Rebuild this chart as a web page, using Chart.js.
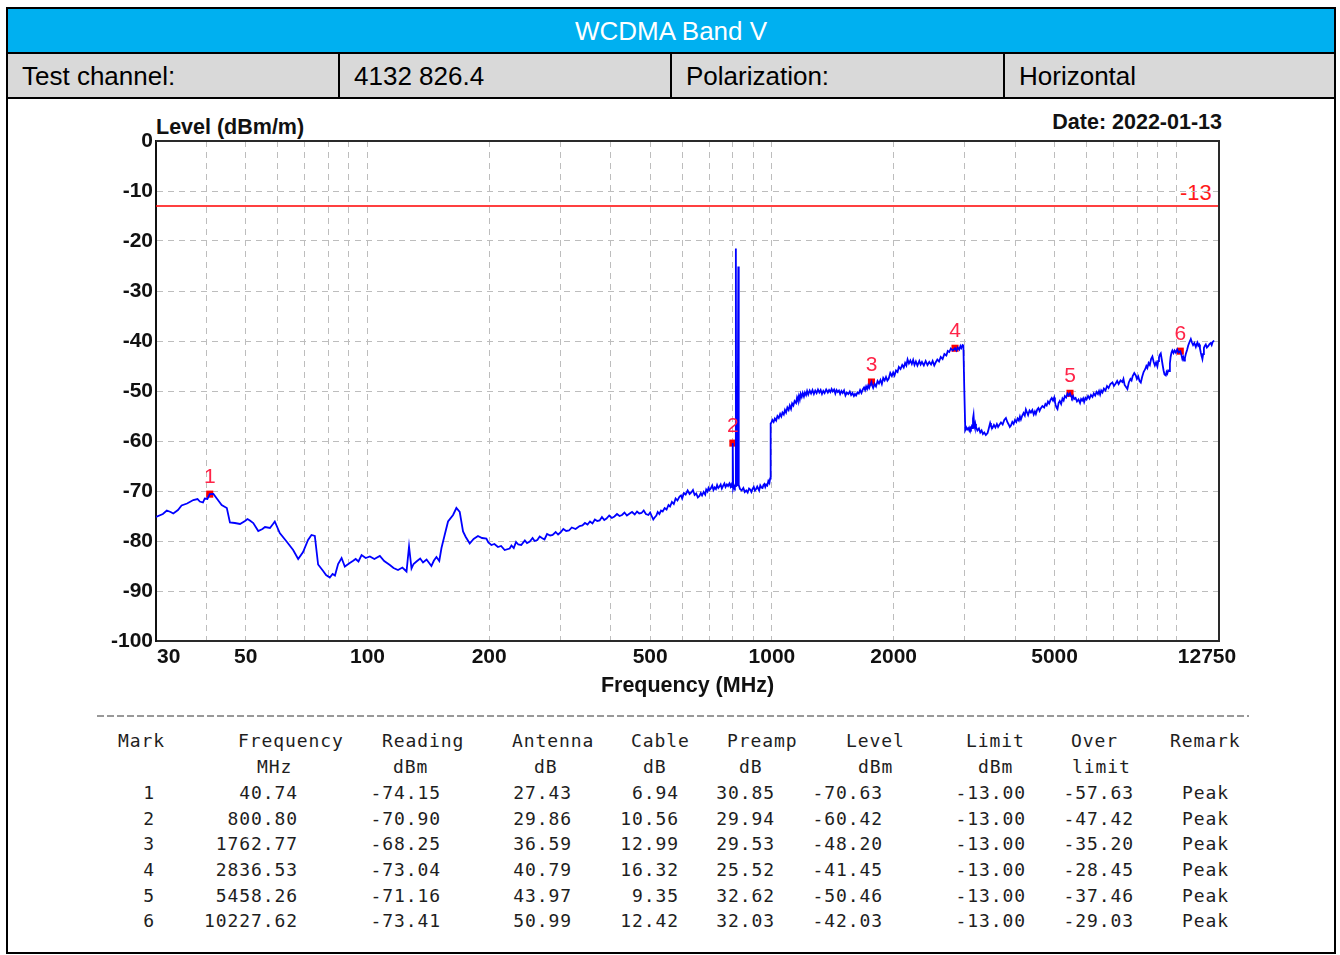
<!DOCTYPE html>
<html>
<head>
<meta charset="utf-8">
<script src="https://cdn.jsdelivr.net/npm/chart.js@4.4.1/dist/chart.umd.min.js"></script>
<style>
  html,body{margin:0;padding:0;background:#fff;}
  body{width:1340px;height:955px;position:relative;overflow:hidden;font-family:"Liberation Sans",Arial,sans-serif;}
  .abs{position:absolute;}
  .hdr{position:absolute;font-size:26px;line-height:26px;color:#000;white-space:nowrap;}
  .mono{position:absolute;font-family:"DejaVu Sans Mono",monospace;font-size:18px;line-height:22px;letter-spacing:0.9px;color:#1e1e1e;white-space:pre;}
  .ttl{position:absolute;font-weight:bold;font-size:21.5px;line-height:22px;color:#111;white-space:nowrap;}
</style>
</head>
<body>
<div class="abs" style="left:6px;top:7px;width:1330px;height:947px;border:2px solid #000;box-sizing:border-box;background:#fff;"></div>
<div class="abs" style="left:8px;top:9px;width:1326px;height:43px;background:#00B0F0;"></div>
<div class="abs" style="left:8px;top:52px;width:1326px;height:2px;background:#000;"></div>
<div class="abs" style="left:8px;top:54px;width:1326px;height:43px;background:#D9D9D9;"></div>
<div class="abs" style="left:8px;top:97px;width:1326px;height:2px;background:#000;"></div>
<div class="abs" style="left:338px;top:54px;width:2px;height:43px;background:#000;"></div>
<div class="abs" style="left:670px;top:54px;width:2px;height:43px;background:#000;"></div>
<div class="abs" style="left:1003px;top:54px;width:2px;height:43px;background:#000;"></div>

<div class="hdr" style="left:8px;width:1326px;top:18px;text-align:center;color:#fff;">WCDMA Band V</div>
<div class="hdr" style="left:22px;top:63px;">Test channel:</div>
<div class="hdr" style="left:354px;top:63px;">4132 826.4</div>
<div class="hdr" style="left:686px;top:63px;">Polarization:</div>
<div class="hdr" style="left:1019px;top:63px;">Horizontal</div>

<div class="ttl" style="left:156px;top:116px;">Level (dBm/m)</div>
<div class="ttl" style="right:118px;top:111px;">Date: 2022-01-13</div>
<div class="abs" style="left:1180px;top:182px;font-size:22px;line-height:22px;color:#ff1a1a;">-13</div>

<canvas id="c" width="1340" height="710" style="position:absolute;left:0;top:0;"></canvas>

<svg class="abs" style="left:97px;top:715px;" width="1152" height="2"><line x1="0" y1="1" x2="1152" y2="1" stroke="#333" stroke-width="1" stroke-dasharray="7 3"/></svg>
<div id="table"></div>

<script>
// ---------- DATA (frequency MHz, level dBm/m) ----------
const traceLow = [
[30,-75.2],[31.2,-74.6],[31.9,-73.9],[32.6,-74.2],[33.1,-74.5],[34.0,-73.8],[34.7,-72.9],[35.8,-72.5],[37.1,-71.8],[38.0,-71.6],
[38.5,-72.1],[39.2,-72.3],[39.6,-71.5],[40.2,-71.6],[40.74,-70.63],[41.6,-70.6],[42.5,-71.6],[43.6,-72.8],[44.9,-73.4],[45.7,-76.3],
[47.0,-76.4],[48.4,-76.6],[49.8,-76.0],[50.5,-75.6],[51.2,-75.9],[52.2,-76.4],[53.7,-78.0],[55.0,-77.6],[55.8,-77.2],[57.4,-77.4],
[58.4,-76.6],[59.0,-76.1],[60.7,-78.4],[63.1,-80.1],[65.5,-81.8],[67.4,-83.6],[69.3,-82.2],[71.3,-79.8],[72.7,-78.8],[74.1,-79.0],
[75.5,-84.7],[77.7,-86.0],[79.0,-86.8],[80.7,-87.3],[82.0,-86.6],[83.1,-86.9],[84.6,-84.6],[86.3,-83.4],[87.9,-85.1],[90.4,-84.4],
[92.0,-84.0],[93.5,-83.6],[95.0,-84.1],[96.7,-82.8],[99,-83.4],[101.4,-83.1],[104,-83.6],[107.3,-83.0],[110,-84.0],[113.6,-84.8],
[116,-85.4],[119,-85.8],[122,-85.3],[124.9,-86.1],[126.7,-81.1],[128.5,-85.5],[130,-84.6],[132.2,-84.1],[135,-83.5],[137.2,-84.3],
[140,-83.7],[143.9,-85.0],[146,-83.9],[148.1,-83.2],[150.5,-84.0],[152.4,-81.4],[155.2,-78.8],[158.2,-76.1],[162.8,-74.8],[165.9,-73.4],
[169.1,-74.2],[172.3,-78.1],[175,-79.2],[179,-80.5],[183,-79.6],[187.6,-79.0],[192,-79.4],[196.8,-79.5],[199,-80.3],[202.5,-80.8],
[206,-80.6],[210.2,-81.2],[214,-81.0],[218.4,-81.8]
];
const traceMid = [
[224.7,-81.5],[227,-80.9],[230,-81.4],[233,-80.2],[236,-80.7],[240,-80.8],[245,-79.9],[248,-80.4],[252,-80.1],[256,-79.4],
[259,-80.0],[263,-79.8],[266.6,-79.1],[270,-79.4],[274,-79.7],[278,-78.6],[283,-78.9],[287,-78.8],[292,-78.2],[296,-78.7],
[300,-78.3],[305,-77.6],[310,-78.0],[315,-77.9],[320,-77.3],[327,-77.6],[334.6,-77.0],[340,-76.9],[345,-76.4],[350,-76.7],
[355,-76.1],[360,-76.5],[365,-75.7],[370,-76.0],[375,-75.9],[380,-75.2],[385,-75.8],[390,-75.5],[396,-74.9],[402,-75.4],
[408,-75.1],[414,-74.6],[420,-75.0],[426,-74.8],[432,-74.3],[438,-74.9],[445,-74.5],[451,-74.2],[458,-74.7],[464,-74.1],
[470,-74.5],[476,-74.4],[482,-73.9],[488,-74.6],[495,-74.8],[500,-74.3],[505,-75.1],[509,-75.7],[513,-75.3],[518,-74.9],
[522,-74.2],[527,-74.6],[532,-73.9],[537,-74.1],[543,-73.4],[549,-73.7],[555,-72.8],[560,-73.1],[566,-72.2],[572,-72.6],
[578,-71.5],[584,-71.9],[591,-71.1],[596,-70.9],[600,-71.5],[606,-70.4],[612,-70.7],[619,-69.9],[626,-70.6],[632,-70.3],
[638,-69.8],[644,-70.8],[650,-70.5],[656,-71.3],[662,-71.0],[667,-70.4],[672,-70.9],[678,-70.2],[684,-70.7],[688,-69.7],
[693,-70.1],[697,-69.4],[701,-69.8],[706,-69.5],[712,-68.9],[717,-69.8],[722,-69.3],[727,-69.6],[732,-68.8],[737,-69.4],
[742,-69.1],[747,-68.7],[752,-69.5],[757,-69.0],[763,-68.5],[768,-69.2],[774,-68.7],[779,-69.0],[785,-68.5],[790,-69.1],
[793,-68.7],[797,-69.2],
[799.5,-69.2],[800.8,-60.42],[802,-69.5],[806,-68.9],[810,-69.3],[813,-69.0],[814.5,-21.5],[816,-69.0],[822,-68.8],[826,-25.1],
[828,-68.8],[834,-69.6],[842,-69.9],[850,-69.4],[857,-70.2],[864,-69.9],[871,-70.3],[878,-69.5],[884,-69.7],[890,-70.2],
[896,-69.6],[902,-69.2],[908,-69.9],[914,-69.6],[920,-69.1],[925,-69.5],[930,-69.9],[936,-68.9],[942,-69.3],[948,-69.4],
[953,-68.8],[958,-68.6],[963,-69.2],[968,-68.7],[974,-68.9],[980,-68.0],[986,-68.4],[990,-67.5],[993,-56.5]
];
const traceHigh = [
[996,-56.4],[1003,-55.8],[1010,-56.2],[1017,-55.5],[1024.6,-55.9],[1032,-55.0],[1040,-55.4],[1048,-54.6],[1055,-55.1],[1062,-54.3],
[1070,-54.7],[1077,-53.8],[1084,-54.3],[1092,-53.3],[1100,-53.8],[1107,-52.9],[1115,-53.6],[1122,-52.5],[1130,-52.9],[1138,-52.0],
[1147.6,-52.4],[1154,-51.3],[1160,-51.9],[1166,-51.0],[1172,-51.7],[1178,-50.6],[1185,-51.2],[1192,-50.4],[1200,-51.1],[1207,-50.3],
[1214.8,-50.8],[1222,-50.0],[1230,-50.7],[1240,-49.9],[1250,-50.5],[1260,-49.8],[1270,-50.6],[1280,-49.9],[1290,-50.4],[1300,-49.7],
[1310,-50.3],[1320,-49.8],[1330,-50.6],[1340,-50.0],[1350,-50.4],[1362,-49.7],[1375,-50.3],[1385,-49.8],[1395,-50.2],[1405,-49.6],
[1414,-50.1],[1425,-49.7],[1435,-50.5],[1445,-49.8],[1455,-50.2],[1465,-49.9],[1475,-50.6],[1486,-50.0],[1496.5,-50.4],[1508,-49.9],
[1520,-50.9],[1532,-50.3],[1545,-50.6],[1558,-50.1],[1570,-50.8],[1582,-50.4],[1595,-51.0],[1605,-50.6],[1615,-50.9],[1628,-50.3],
[1640,-50.5],[1652,-49.8],[1665,-50.4],[1678,-49.7],[1690,-49.3],[1700,-49.8],[1710,-49.1],[1720,-49.6],[1730,-48.9],[1740,-49.4],
[1750,-48.8],[1762.77,-48.2],[1770,-48.9],[1780,-49.4],[1795,-48.6],[1809,-49.1],[1825,-48.0],[1840,-48.5],[1855,-47.8],[1870,-48.6],
[1885,-47.4],[1900,-47.9],[1915,-47.2],[1930,-47.9],[1945,-47.5],[1962,-46.4],[1980,-47.0],[1995,-46.3],[2010,-46.9],[2027,-45.9],
[2045,-46.2],[2060,-45.2],[2080,-45.6],[2100,-44.8],[2118,-45.3],[2135,-44.4],[2150,-44.9],[2165,-43.7],[2182,-44.5],[2200,-43.9],
[2218,-44.6],[2235,-43.8],[2252,-44.8],[2270,-44.1],[2290,-44.9],[2315,-44.0],[2332,-44.7],[2350,-44.2],[2375,-44.9],[2400,-44.0],
[2425,-44.8],[2450,-44.2],[2475,-44.7],[2497,-44.0],[2520,-44.9],[2540,-44.3],[2565,-43.7],[2590,-44.1],[2615,-43.2],[2643,-43.6],
[2670,-42.6],[2700,-42.9],[2722,-42.0],[2745,-42.2],[2770,-41.5],[2800,-41.9],[2836.53,-41.45],[2860,-41.9],[2880,-41.3],[2906,-41.7],
[2925,-41.0],[2940,-41.4],[2961,-40.8],[2975,-40.9],[2990,-49.5]
];
const traceTop = [
[3007,-57.8],[3025,-57.3],[3040,-57.7],[3058,-57.4],[3076,-57.9],[3090,-57.3],[3106,-57.6],[3120,-57.1],[3130,-57.4],[3142,-55.5],
[3152,-54.8],[3163,-56.8],[3175,-57.3],[3185,-56.6],[3196,-57.2],[3222,-57.9],[3250,-57.5],[3275,-58.3],[3300,-57.9],[3325,-58.6],
[3350,-58.3],[3380,-58.8],[3414,-58.4],[3435,-57.6],[3450,-57.0],[3465,-56.4],[3480,-56.9],[3510,-57.4],[3540,-56.8],[3570,-57.3],
[3600,-56.6],[3625,-57.2],[3649,-56.8],[3685,-56.3],[3720,-56.7],[3755,-55.8],[3790,-55.4],[3820,-56.2],[3850,-56.7],[3875,-57.2],
[3900,-56.9],[3930,-56.2],[3960,-56.6],[3990,-55.8],[4020,-56.2],[4050,-55.5],[4080,-55.9],[4105,-55.1],[4128,-55.7],[4160,-54.9],
[4190,-54.4],[4220,-54.9],[4246,-53.7],[4270,-54.2],[4300,-54.8],[4335,-53.9],[4370,-54.3],[4405,-53.8],[4440,-54.7],[4470,-54.1],
[4495,-54.6],[4530,-53.7],[4560,-53.4],[4590,-54.0],[4620,-53.5],[4665,-53.0],[4712,-53.3],[4745,-52.6],[4780,-52.9],[4815,-52.1],
[4850,-52.5],[4885,-51.8],[4920,-51.4],[4955,-51.9],[4988,-51.3],[5010,-52.2],[5030,-52.8],[5055,-53.3],[5083,-53.6],[5115,-52.4],
[5150,-52.0],[5190,-52.6],[5229,-51.5],[5265,-51.9],[5300,-51.0],[5340,-51.3],[5381,-50.5],[5420,-50.9],[5458.26,-50.46],[5490,-51.0],
[5520,-51.4],[5555,-51.0],[5589,-51.6],[5635,-51.4],[5680,-52.1],[5730,-51.7],[5780,-52.4],[5815,-51.6],[5850,-51.9],[5885,-51.5],
[5917,-52.2],[5960,-51.4],[6000,-51.7],[6050,-51.0],[6100,-51.5],[6150,-50.8],[6204,-51.2],[6250,-50.5],[6300,-50.9],[6350,-50.2],
[6400,-50.6],[6440,-50.0],[6480,-50.7],[6520,-49.9],[6567,-50.3],[6620,-49.5],[6680,-49.9],[6740,-49.0],[6800,-49.4],[6870,-48.6],
[6951,-48.3],[7010,-49.0],[7080,-48.5],[7140,-48.0],[7200,-48.6],[7280,-47.9],[7356,-48.2],[7400,-47.6],[7450,-48.8],[7510,-49.2],
[7568,-49.6],[7630,-48.3],[7700,-47.6],[7750,-47.9],[7800,-47.0],[7870,-46.4],[7939,-46.9],[7990,-47.6],[8050,-47.1],[8110,-48.0],
[8169,-48.3],[8230,-47.2],[8300,-46.2],[8380,-45.6],[8430,-45.0],[8480,-45.4],[8540,-44.4],[8600,-44.8],[8660,-43.6],[8726,-43.1],
[8790,-44.2],[8850,-44.9],[8910,-44.3],[8976,-45.1],[9020,-44.0],[9060,-43.3],[9100,-42.8],[9152,-42.5],[9200,-43.6],[9250,-44.8],
[9300,-45.9],[9350,-46.7],[9418,-46.9],[9460,-46.2],[9500,-46.5],[9550,-45.9],[9594,-46.0],[9640,-44.5],[9680,-43.2],[9730,-42.3],
[9777,-41.9],[9840,-42.4],[9900,-41.9],[9970,-42.3],[10050,-41.7],[10130,-42.3],[10227.62,-42.03],[10290,-42.7],[10350,-43.6],[10400,-43.2],
[10450,-43.9],[10500,-43.4],[10554,-42.6],[10630,-41.8],[10700,-40.9],[10780,-40.2],[10860,-39.6],[10930,-40.3],[11000,-40.8],[11080,-40.4],
[11172,-41.2],[11230,-40.6],[11280,-40.3],[11330,-40.9],[11385,-40.7],[11440,-41.5],[11500,-42.4],[11550,-43.0],[11601,-43.6],[11650,-42.6],
[11700,-41.4],[11760,-41.0],[11826,-40.7],[11900,-41.3],[12000,-41.0],[12080,-40.6],[12165,-40.4],[12230,-40.8],[12300,-40.2],[12396,-39.9]
];
const limitFreq = [30, 12750];
const limitLevel = [-13, -13];
const markFreq = [40.74, 800.80, 1762.77, 2836.53, 5458.26, 10227.62];
const markLevel = [-70.63, -60.42, -48.20, -41.45, -50.46, -42.03];
const gridFreqs = [30,40,50,60,70,80,90,100,200,300,400,500,600,700,800,900,1000,2000,3000,4000,5000,6000,7000,8000,9000,10000,12750];
const labeledFreqs = [30,50,100,200,500,1000,2000,5000,12750];
const yTicks = [0,-10,-20,-30,-40,-50,-60,-70,-80,-90,-100];

const tableHead = ['Mark','Frequency','Reading','Antenna','Cable','Preamp','Level','Limit','Over','Remark'];
const tableUnit = ['','MHz','dBm','dB','dB','dB','dBm','dBm','limit',''];
const readingDbm = [-74.15, -70.90, -68.25, -73.04, -71.16, -73.41];
const antennaDb = [27.43, 29.86, 36.59, 40.79, 43.97, 50.99];
const cableDb = [6.94, 10.56, 12.99, 16.32, 9.35, 12.42];
const preampDb = [30.85, 29.94, 29.53, 25.52, 32.62, 32.03];
const limitDbm = [-13.00, -13.00, -13.00, -13.00, -13.00, -13.00];
const overLimit = [-57.63, -47.42, -35.20, -28.45, -37.46, -29.03];
const remarks = ['Peak','Peak','Peak','Peak','Peak','Peak'];

// ---------- TABLE ----------
(function(){
  const headLeft = [118,238,382,512,631,727,846,966,1071,1170];
  const unitLeft = [0,257,393,534,643,739,858,978,1072,0];
  const dataRight = [154,297,440,571,678,774,882,1025,1133,1228];
  const rowY = [741,767,793,818.5,844,870,895.5,921];
  const t = document.getElementById('table');
  function put(txt, x, yc, right){
    const d = document.createElement('div');
    d.className = 'mono';
    d.textContent = txt;
    d.style.top = (yc - 11) + 'px';
    d.style.left = x + 'px';
    if (right) d.style.transform = 'translateX(-100%)';
    t.appendChild(d);
  }
  tableHead.forEach((h,i)=>put(h, headLeft[i], rowY[0], false));
  tableUnit.forEach((u,i)=>{ if(u) put(u, unitLeft[i], rowY[1], false); });
  for (let r = 0; r < markFreq.length; r++) {
    const cols = [String(r+1), markFreq[r].toFixed(2), readingDbm[r].toFixed(2), antennaDb[r].toFixed(2),
      cableDb[r].toFixed(2), preampDb[r].toFixed(2), markLevel[r].toFixed(2), limitDbm[r].toFixed(2),
      overLimit[r].toFixed(2), remarks[r]];
    cols.forEach((c,i)=>put(c, dataRight[i] + 0.9, rowY[r+2], true));
  }
})();

// ---------- CHART ----------
const FONT = '"Liberation Sans", Arial, sans-serif';
const tracePoints = traceLow.concat(traceMid, traceHigh, traceTop);

const edgeLabels = {
  id: 'edgeLabels',
  beforeDraw(chart) {
    const sx = chart.scales.x;
    if (typeof sx.getLabelItems !== 'function') return;
    const items = sx.getLabelItems(chart.chartArea);
    items.forEach(it => {
      if (it.label === '30') {
        it.options.textAlign = 'left';
        it.options.translation = [chart.chartArea.left + 1, it.options.translation[1]];
      } else if (it.label === '12750') {
        it.options.translation = [chart.chartArea.right - 12, it.options.translation[1]];
      }
    });
  }
};

const frameBox = {
  id: 'frameBox',
  afterDraw(chart) {
    const a = chart.chartArea, ctx = chart.ctx;
    ctx.save();
    ctx.strokeStyle = '#2a2a2a';
    ctx.lineWidth = 2;
    ctx.beginPath();
    ctx.moveTo(a.left, a.top); ctx.lineTo(a.right, a.top); ctx.lineTo(a.right, a.bottom);
    ctx.stroke();
    ctx.restore();
  }
};

const markLabels = {
  id: 'markLabels',
  afterDatasetsDraw(chart) {
    const meta = chart.getDatasetMeta(2);
    const ctx = chart.ctx;
    ctx.save();
    ctx.font = '21px ' + FONT;
    ctx.fillStyle = '#ff2448';
    ctx.textAlign = 'center';
    ctx.textBaseline = 'middle';
    meta.data.forEach((el, i) => {
      ctx.fillText(String(i + 1), el.x, el.y - 17);
    });
    ctx.restore();
  }
};

new Chart(document.getElementById('c'), {
  type: 'line',
  data: {
    datasets: [
      {
        data: tracePoints.map(p => ({x: p[0], y: p[1]})),
        borderColor: '#0000ff', borderWidth: 1.8, pointRadius: 0, tension: 0, fill: false
      },
      {
        data: limitFreq.map((f, i) => ({x: f, y: limitLevel[i]})),
        borderColor: '#ff0000', borderWidth: 1.5, pointRadius: 0, fill: false
      },
      {
        data: markFreq.map((f, i) => ({x: f, y: markLevel[i]})),
        showLine: false, pointStyle: 'rect', pointRadius: 5,
        pointBackgroundColor: '#ff0000', pointBorderWidth: 0, borderColor: '#ff0000'
      }
    ]
  },
  options: {
    responsive: false,
    animation: false,
    devicePixelRatio: 1,
    layout: { padding: { left: 0, top: 141, right: 121, bottom: 0 } },
    plugins: { legend: { display: false }, tooltip: { enabled: false }, title: { display: false } },
    scales: {
      x: {
        type: 'logarithmic',
        min: 30, max: 12750,
        afterBuildTicks: (s) => { s.ticks = gridFreqs.map(v => ({value: v})); },
        afterFit: (s) => { s.height = 69; },
        ticks: {
          autoSkip: false, maxRotation: 0, minRotation: 0, padding: 4,
          color: '#111', font: { family: FONT, size: 21, weight: 'bold' },
          callback: (v) => labeledFreqs.includes(v) ? String(v) : ''
        },
        grid: { color: '#bdbdbd', lineWidth: 1, drawTicks: false },
        border: { display: true, color: '#2a2a2a', width: 2, dash: [6, 5] },
        title: {
          display: true, text: 'Frequency (MHz)', color: '#111',
          font: { family: FONT, size: 21.5, weight: 'bold' }, padding: { top: 0, bottom: 11 }
        }
      },
      y: {
        type: 'linear',
        min: -100, max: 0,
        afterBuildTicks: (s) => { s.ticks = yTicks.map(v => ({value: v})); },
        afterFit: (s) => { s.width = 156; },
        ticks: {
          padding: 3, color: '#111', font: { family: FONT, size: 21, weight: 'bold' },
          callback: (v) => String(v)
        },
        grid: { color: '#bdbdbd', lineWidth: 1, drawTicks: false },
        border: { display: true, color: '#111', width: 2, dash: [6, 5] }
      }
    }
  },
  plugins: [edgeLabels, frameBox, markLabels]
});
</script>
</body>
</html>
